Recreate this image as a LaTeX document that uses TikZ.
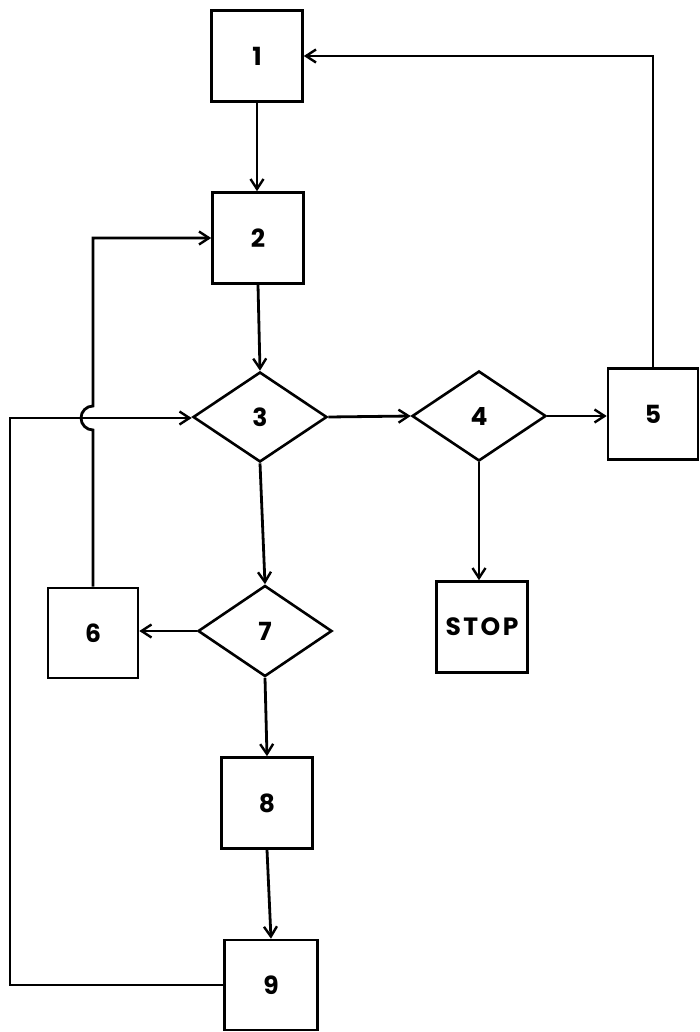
\documentclass[tikz,border=0pt]{standalone}
\usepackage{fontspec}
\setmainfont{Poppins}
\usetikzlibrary{shapes.geometric,arrows.meta}
\tikzset{
  box/.style={draw, line width=2.6pt, minimum width=91pt, minimum height=91pt, inner sep=0pt, font=\fontsize{25}{28}\selectfont\bfseries},
  dia/.style={draw, diamond, line width=2.6pt, minimum width=134pt, minimum height=90pt, inner sep=0pt, font=\fontsize{25}{28}\selectfont\bfseries},
  arr/.style={line width=2.8pt, -{Straight Barb[length=10pt,width=13pt,line width=2.4pt]}}
}
\begin{document}
\begin{tikzpicture}[x=1pt,y=-1pt]
\useasboundingbox (0,0) rectangle (699,1032);
\node[box] (n1) at (257,56) {1};
\node[box] (n2) at (258,238) {2};
\node[dia] (n3) at (260,417) {3};
\node[dia] (n4) at (479,416) {4};
\node[box, minimum width=90pt] (n5) at (653,414) {5};
\node[box, minimum width=90pt, minimum height=90pt] (n6) at (93,633) {6};
\node[dia, minimum height=91pt] (n7) at (265,631) {7};
\node[box] (stop) at (482,627) {\addfontfeatures{LetterSpace=10}STOP};
\node[box] (n8) at (267,803) {8};
\node[box, minimum width=93pt, minimum height=90pt] (n9) at (271,985) {9};
\coordinate (c9) at (10,418);
\coordinate (hopb) at (93,430);
\draw[arr] (n1.south) -- (n1.south |- n2.north);
\draw[arr] (n2.south) -- (n3.north);
\draw[arr] (n3.east) -- (n4.west);
\draw[arr] (n4.east) -- (n4.east -| n5.west);
\draw[arr] (n5.north) |- (n1.east);
\draw[arr] (n4.south) -- (n4.south |- stop.north);
\draw[arr] (n3.south) -- (n7.north);
\draw[arr] (n7.west) -- (n7.west -| n6.east);
\draw[arr] (n6.north) -- (hopb) arc(90:270:12) |- (n2.west);
\draw[arr] (n7.south) -- (n8.north);
\draw[arr] (n8.south) -- (n9.north);
\draw[arr] (n9.west) -| (c9) -- (c9 -| n3.west);
\end{tikzpicture}
\end{document}
